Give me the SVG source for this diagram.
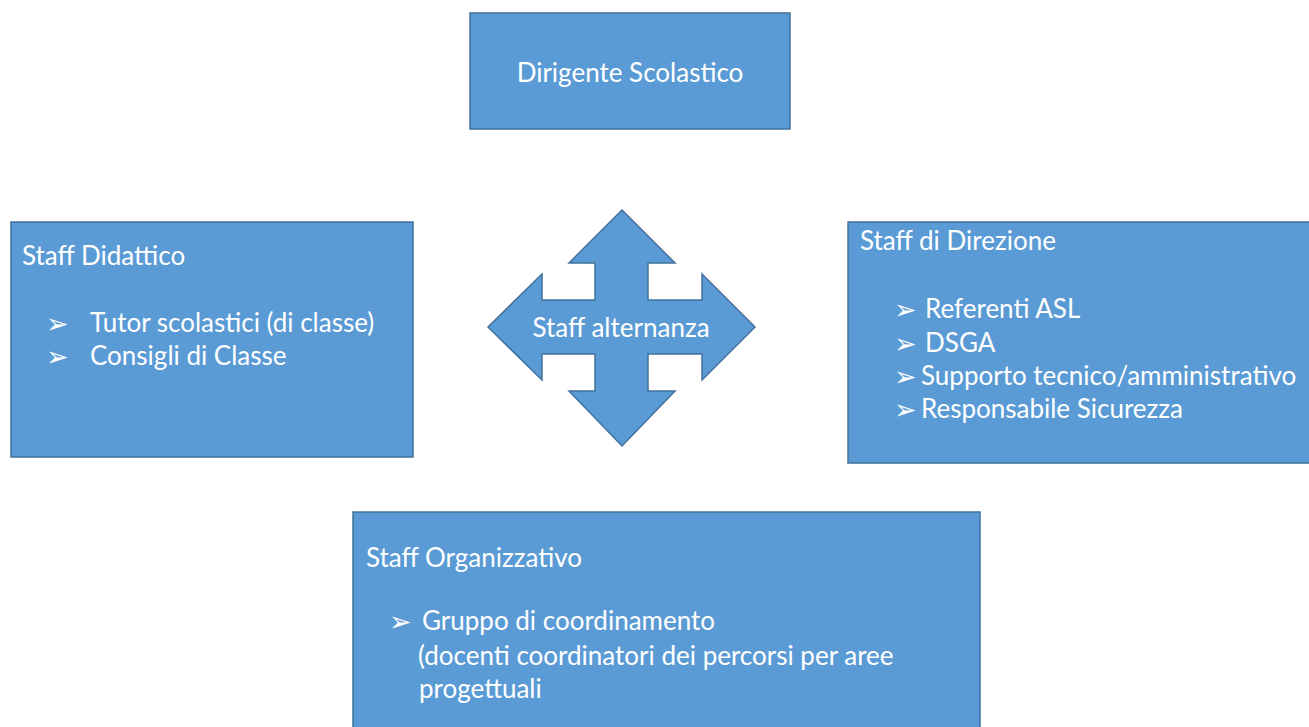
<svg xmlns="http://www.w3.org/2000/svg" width="1309" height="727" viewBox="0 0 1309 727">
<style>
.box{fill:#5B9BD5;stroke:#41719C;stroke-width:1.5}
.t{font-family:Lato,"Liberation Sans",sans-serif;font-size:26px;fill:#FFFFFF}
.b{font-family:"DejaVu Sans",sans-serif;font-size:27px;fill:#FFFFFF}
</style>
<rect width="1309" height="727" fill="#FFFFFF"/>
<g id="dirigente">
<rect class="box" x="470" y="13" width="320" height="116"/>
<text class="t" x="630" y="82" text-anchor="middle">Dirigente Scolastico</text>
</g>
<g id="staff-didattico">
<rect class="box" x="11" y="222" width="402" height="235"/>
<text class="t" x="22" y="265">Staff Didattico</text>
<text class="b" x="46" y="333">➢</text>
<text class="t" x="90" y="332">Tutor scolastici (di classe)</text>
<text class="b" x="46" y="366">➢</text>
<text class="t" x="90" y="365">Consigli di Classe</text>
</g>
<g id="staff-alternanza">
<path class="box" d="M622,210 L675,263 L648,263 L648,300 L702,300 L702,274 L755,327 L702,380 L702,354 L648,354 L648,391 L675,391 L622,446 L569,391 L595,391 L595,354 L542,354 L542,380 L488,327 L542,274 L542,300 L595,300 L595,263 L569,263 Z"/>
<text class="t" x="621" y="337" text-anchor="middle">Staff alternanza</text>
</g>
<g id="staff-direzione">
<rect class="box" x="848" y="222" width="470" height="241"/>
<text class="t" x="860" y="250">Staff di Direzione</text>
<text class="b" x="894" y="319">➢</text>
<text class="t" x="925" y="318">Referenti ASL</text>
<text class="b" x="894" y="353">➢</text>
<text class="t" x="925" y="352">DSGA</text>
<text class="b" x="894" y="386">➢</text>
<text class="t" x="921" y="385">Supporto tecnico/amministrativo</text>
<text class="b" x="894" y="419">➢</text>
<text class="t" x="921" y="418">Responsabile Sicurezza</text>
</g>
<g id="staff-organizzativo">
<rect class="box" x="353" y="512" width="627" height="230"/>
<text class="t" x="366" y="567">Staff Organizzativo</text>
<text class="b" x="389" y="631">➢</text>
<text class="t" x="422" y="630">Gruppo di coordinamento</text>
<text class="t" x="418" y="665">(docenti coordinatori dei percorsi per aree</text>
<text class="t" x="419" y="698">progettuali</text>
</g>
<g id="connectors"></g>
</svg>
